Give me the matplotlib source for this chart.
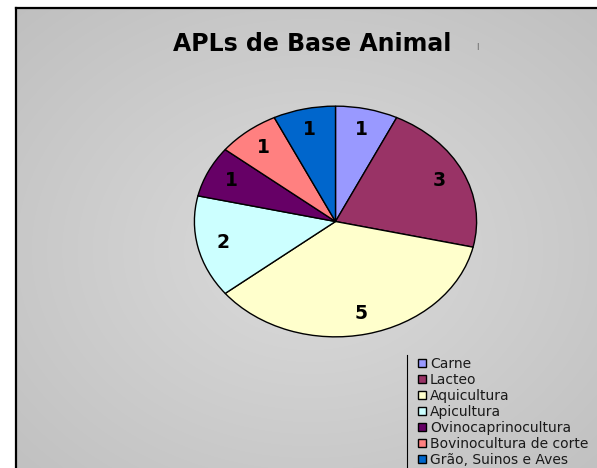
import numpy as np
import matplotlib.pyplot as plt
import matplotlib.lines as mlines

plt.rcParams['font.family'] = ['DejaVu Sans']

categorias = ["Carne", "Lacteo", "Aquicultura", "Apicultura",
              "Ovinocaprinocultura", "Bovinocultura de corte", "Grão, Suinos e Aves"]
valores = [1, 3, 5, 2, 1, 1, 1]
cores = ["#9999FF", "#993366", "#FFFFCC", "#CCFFFF", "#660066", "#FF8080", "#0066CC"]

W, H = 597, 468
fig = plt.figure(figsize=(W / 100, H / 100), dpi=100)
fig.patch.set_facecolor("white")

# fundo com gradiente radial
ax_bg = fig.add_axes([16 / W, 0, (W - 16) / W, (H - 8) / H])
xs = np.arange(16, W)
ys = np.arange(8, H)
X, Y = np.meshgrid(xs, ys)
d = np.sqrt(((X - 310) / 330) ** 2 + ((Y - 250) / 260) ** 2)
v = np.clip(0.86 - 0.085 * d, 0.745, 1)
ax_bg.imshow(np.dstack([v, v, v]), aspect="auto", extent=(0, 1, 0, 1), interpolation="bilinear")
ax_bg.set_xticks([])
ax_bg.set_yticks([])
for s in ["right", "bottom"]:
    ax_bg.spines[s].set_visible(False)
for s in ["top", "left"]:
    ax_bg.spines[s].set_linewidth(1.6)
    ax_bg.spines[s].set_color("black")

# pizza (achatada como no original)
ax = fig.add_axes([193 / W, (H - 338) / H, 285 / W, 233 / H])
wedges, texts = ax.pie(valores, colors=cores, startangle=90, counterclock=False,
                       labels=[str(v) for v in valores], labeldistance=0.82,
                       wedgeprops=dict(edgecolor="black", linewidth=1.0),
                       textprops=dict(fontsize=13.5, fontweight="bold", color="black",
                                      ha="center", va="center"))
ax.set_aspect("auto")
ax.set_xlim(-1.01, 1.01)
ax.set_ylim(-1.01, 1.01)
ax.axis("off")

fig.text(312 / W, 1 - 44 / H, "APLs de Base Animal", ha="center", va="center",
         fontsize=17, fontweight="bold", color="black")
fig.text(477 / W, 1 - 47 / H, "|", ha="center", va="center", fontsize=5, color="#444444")

# legenda
leg = fig.legend(wedges, categorias, loc="upper left",
                 bbox_to_anchor=(418 / W, 1 - 357 / H), frameon=False,
                 fontsize=10, handlelength=0.55, handleheight=0.55,
                 handletextpad=0.3, labelspacing=0.14, borderpad=0, borderaxespad=0)
for t in leg.get_texts():
    t.set_color("#1a1a1a")
fig.add_artist(mlines.Line2D([407 / W, 407 / W], [0, 1 - 355 / H], color="black",
                             linewidth=0.8, transform=fig.transFigure))

fig.savefig("out.png", dpi=100)
